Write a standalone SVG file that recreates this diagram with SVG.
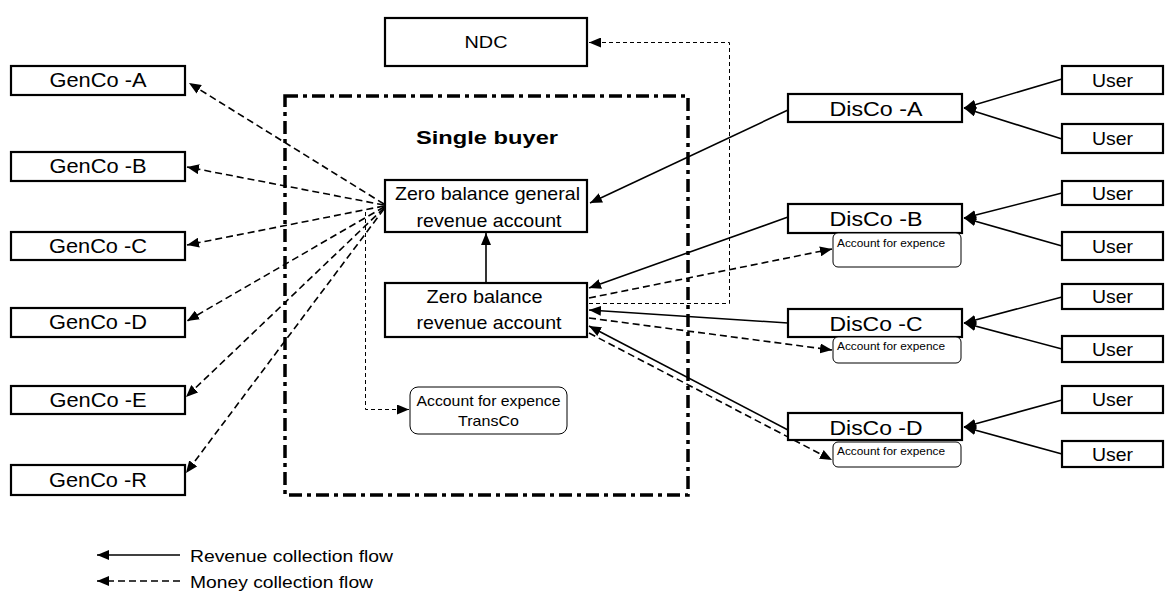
<svg xmlns="http://www.w3.org/2000/svg" width="1168" height="604" viewBox="0 0 1168 604">
<style>
  .box{fill:#fff;stroke:#000;stroke-width:2.2}
  .rbox{fill:#fff;stroke:#000;stroke-width:1}
  .t{font-family:"Liberation Sans",Arial,sans-serif;fill:#000}
  .solid{fill:none;stroke:#000;stroke-width:1.6}
  .dash{fill:none;stroke:#000;stroke-width:1.6;stroke-dasharray:7 4}
  .thin{fill:none;stroke:#000;stroke-width:1;stroke-dasharray:4 3}
  .arr{marker-end:url(#ah)}
</style>
<defs>
  <marker id="ah" viewBox="0 0 12 10" refX="12" refY="5" markerWidth="12" markerHeight="10" markerUnits="userSpaceOnUse" orient="auto">
    <path d="M0,0 L12,5 L0,10 z" fill="#000"/>
  </marker>
</defs>
<rect width="1168" height="604" fill="#fff"/>

<g id="single-buyer">
  <rect x="285" y="96" width="403" height="399" fill="none" stroke="#000" stroke-width="3.5" stroke-dasharray="13 5 4 5"/>
  <text class="t" x="487" y="144" font-size="19" font-weight="bold" text-anchor="middle" textLength="142" lengthAdjust="spacingAndGlyphs">Single buyer</text>
</g>

<g id="connectors">
  <!-- GenCo fan (money collection) -->
  <path class="dash arr" d="M384,204 L189,83"/>
  <path class="dash arr" d="M384,205 L187,167"/>
  <path class="dash arr" d="M384,206 L187,245"/>
  <path class="dash arr" d="M384,207 L187,321"/>
  <path class="dash arr" d="M384,208 L186,397"/>
  <path class="dash arr" d="M384,209 L186,473"/>
  <!-- to TransCo -->
  <path class="thin arr" d="M365.5,212 V409.5 H409"/>
  <!-- to NDC -->
  <path class="thin arr" d="M589,303.5 H729.5 V42.5 H589"/>
  <!-- internal -->
  <path class="solid arr" d="M486,283 V233"/>
  <!-- DisCo to single buyer -->
  <path class="solid arr" d="M788,110 L590,203"/>
  <path class="solid arr" d="M788,217 L589,288"/>
  <path class="solid arr" d="M788,323 L589,310"/>
  <path class="solid arr" d="M788,430 L589,326"/>
  <!-- to DisCo expense accounts -->
  <path class="dash arr" d="M589,298 L832,249"/>
  <path class="dash arr" d="M589,318 L832,350"/>
  <path class="dash arr" d="M589,333 L832,460"/>
  <!-- Users to DisCos -->
  <path class="solid arr" d="M1062,79 L964,108"/>
  <path class="solid arr" d="M1062,139 L964,108"/>
  <path class="solid arr" d="M1062,193 L964,218"/>
  <path class="solid arr" d="M1062,246 L964,218"/>
  <path class="solid arr" d="M1062,297 L964,323"/>
  <path class="solid arr" d="M1062,349 L964,323"/>
  <path class="solid arr" d="M1062,400 L964,427"/>
  <path class="solid arr" d="M1062,454 L964,427"/>
  <!-- legend -->
  <path class="solid arr" d="M180,555 H97"/>
  <path class="dash arr" d="M180,581 H97"/>
</g>

<g id="ndc">
  <rect class="box" x="385" y="18" width="202" height="48"/>
  <text class="t" x="486" y="48" font-size="17" text-anchor="middle" textLength="43" lengthAdjust="spacingAndGlyphs">NDC</text>
</g>

<g id="genco-a"><rect class="box" x="11" y="66" width="174" height="29"/><text class="t" x="98" y="87" font-size="19.5" text-anchor="middle" textLength="97" lengthAdjust="spacingAndGlyphs">GenCo -A</text></g>
<g id="genco-b"><rect class="box" x="11" y="152" width="174" height="29"/><text class="t" x="98" y="173" font-size="19.5" text-anchor="middle" textLength="97" lengthAdjust="spacingAndGlyphs">GenCo -B</text></g>
<g id="genco-c"><rect class="box" x="11" y="232" width="174" height="28"/><text class="t" x="98" y="253" font-size="19.5" text-anchor="middle" textLength="98" lengthAdjust="spacingAndGlyphs">GenCo -C</text></g>
<g id="genco-d"><rect class="box" x="11" y="308" width="174" height="29"/><text class="t" x="98" y="329" font-size="19.5" text-anchor="middle" textLength="98" lengthAdjust="spacingAndGlyphs">GenCo -D</text></g>
<g id="genco-e"><rect class="box" x="11" y="386" width="174" height="28"/><text class="t" x="98" y="407" font-size="19.5" text-anchor="middle" textLength="97" lengthAdjust="spacingAndGlyphs">GenCo -E</text></g>
<g id="genco-r"><rect class="box" x="11" y="465" width="174" height="30"/><text class="t" x="98" y="487" font-size="19.5" text-anchor="middle" textLength="98" lengthAdjust="spacingAndGlyphs">GenCo -R</text></g>

<g id="zero-general">
  <rect class="box" x="385" y="180" width="202" height="52"/>
  <text class="t" x="487.5" y="200" font-size="18.5" text-anchor="middle" textLength="185" lengthAdjust="spacingAndGlyphs">Zero balance general</text>
  <text class="t" x="489" y="226.5" font-size="18.5" text-anchor="middle" textLength="145" lengthAdjust="spacingAndGlyphs">revenue account</text>
</g>

<g id="zero-revenue">
  <rect class="box" x="385" y="283" width="202" height="54"/>
  <text class="t" x="484.5" y="303" font-size="19" text-anchor="middle" textLength="116" lengthAdjust="spacingAndGlyphs">Zero balance</text>
  <text class="t" x="489" y="329" font-size="19" text-anchor="middle" textLength="145" lengthAdjust="spacingAndGlyphs">revenue account</text>
</g>

<g id="transco-account">
  <rect class="rbox" x="410" y="387" width="157" height="47" rx="8"/>
  <text class="t" x="488.5" y="406" font-size="15" text-anchor="middle" textLength="144" lengthAdjust="spacingAndGlyphs">Account for expence</text>
  <text class="t" x="488.5" y="425.5" font-size="15" text-anchor="middle" textLength="61" lengthAdjust="spacingAndGlyphs">TransCo</text>
</g>

<g id="disco-a"><rect class="box" x="788" y="94" width="174" height="28"/><text class="t" x="876" y="116" font-size="19.5" text-anchor="middle" textLength="93" lengthAdjust="spacingAndGlyphs">DisCo -A</text></g>
<g id="disco-b"><rect class="box" x="788" y="204" width="174" height="29"/><text class="t" x="876" y="226" font-size="19.5" text-anchor="middle" textLength="93" lengthAdjust="spacingAndGlyphs">DisCo -B</text></g>
<g id="disco-c"><rect class="box" x="788" y="309" width="174" height="28"/><text class="t" x="876" y="331" font-size="19.5" text-anchor="middle" textLength="93" lengthAdjust="spacingAndGlyphs">DisCo -C</text></g>
<g id="disco-d"><rect class="box" x="788" y="413" width="174" height="27"/><text class="t" x="876" y="435" font-size="19.5" text-anchor="middle" textLength="93" lengthAdjust="spacingAndGlyphs">DisCo -D</text></g>

<g id="acct-b"><rect class="rbox" x="833" y="233" width="128" height="34" rx="5"/><text class="t" x="837" y="247" font-size="11" textLength="108" lengthAdjust="spacingAndGlyphs">Account for expence</text></g>
<g id="acct-c"><rect class="rbox" x="833" y="337" width="128" height="26" rx="5"/><text class="t" x="837" y="350" font-size="11" textLength="108" lengthAdjust="spacingAndGlyphs">Account for expence</text></g>
<g id="acct-d"><rect class="rbox" x="833" y="442" width="128" height="25" rx="5"/><text class="t" x="837" y="455" font-size="11" textLength="108" lengthAdjust="spacingAndGlyphs">Account for expence</text></g>

<g id="user-a1"><rect class="box" x="1062" y="66" width="101" height="28"/><text class="t" x="1112.5" y="87" font-size="18.5" text-anchor="middle" textLength="41" lengthAdjust="spacingAndGlyphs">User</text></g>
<g id="user-a2"><rect class="box" x="1062" y="124" width="101" height="29"/><text class="t" x="1112.5" y="145" font-size="18.5" text-anchor="middle" textLength="41" lengthAdjust="spacingAndGlyphs">User</text></g>
<g id="user-b1"><rect class="box" x="1062" y="181" width="101" height="24"/><text class="t" x="1112.5" y="200" font-size="18.5" text-anchor="middle" textLength="41" lengthAdjust="spacingAndGlyphs">User</text></g>
<g id="user-b2"><rect class="box" x="1062" y="232" width="101" height="28"/><text class="t" x="1112.5" y="253" font-size="18.5" text-anchor="middle" textLength="41" lengthAdjust="spacingAndGlyphs">User</text></g>
<g id="user-c1"><rect class="box" x="1062" y="284" width="101" height="25"/><text class="t" x="1112.5" y="303" font-size="18.5" text-anchor="middle" textLength="41" lengthAdjust="spacingAndGlyphs">User</text></g>
<g id="user-c2"><rect class="box" x="1062" y="336" width="101" height="26"/><text class="t" x="1112.5" y="356" font-size="18.5" text-anchor="middle" textLength="41" lengthAdjust="spacingAndGlyphs">User</text></g>
<g id="user-d1"><rect class="box" x="1062" y="386" width="101" height="27"/><text class="t" x="1112.5" y="406" font-size="18.5" text-anchor="middle" textLength="41" lengthAdjust="spacingAndGlyphs">User</text></g>
<g id="user-d2"><rect class="box" x="1062" y="441" width="101" height="26"/><text class="t" x="1112.5" y="461" font-size="18.5" text-anchor="middle" textLength="41" lengthAdjust="spacingAndGlyphs">User</text></g>

<g id="legend">
  <text class="t" x="190" y="561.5" font-size="16" textLength="203" lengthAdjust="spacingAndGlyphs">Revenue collection flow</text>
  <text class="t" x="190" y="588" font-size="16" textLength="183" lengthAdjust="spacingAndGlyphs">Money collection flow</text>
</g>
</svg>
